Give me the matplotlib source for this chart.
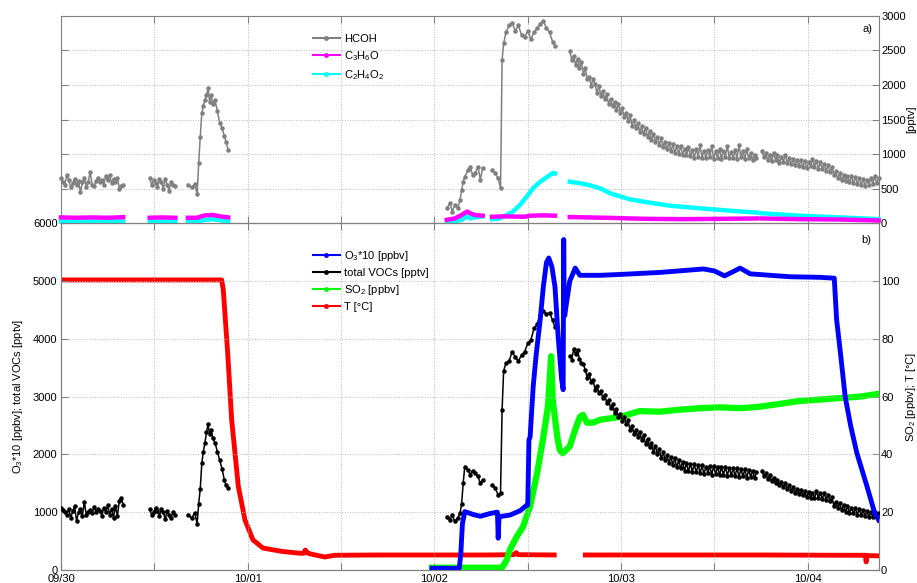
import numpy as np
import matplotlib
matplotlib.use('Agg')
import matplotlib.pyplot as plt
from matplotlib.lines import Line2D

plt.rcParams['font.family'] = ['Liberation Sans', 'DejaVu Sans']
plt.rcParams['mathtext.fontset'] = 'custom'
plt.rcParams['mathtext.rm'] = 'Liberation Sans'
plt.rcParams['mathtext.it'] = 'Liberation Sans:italic'
nan = np.nan

# ---------------- data (hours since 09/30 00:00) ----------------
x_ticks = [0, 12, 24, 36, 48, 60, 72, 84, 96]
x_labels = ['09/30', '', '10/01', '', '10/02', '', '10/03', '', '10/04']

# regularly sampled segments: (start hour, sampling step in hours)
seg1_start, seg1_step = 0.0, 0.25
seg2_start, seg2_step = 11.4, 0.25
seg5_start, seg5_step = 65.4, 0.25
seg6_start, seg6_step = 90.1, 0.25
# irregular segments: explicit times
t_seg3 = [16.3, 16.8, 17.2, 17.5, 17.7, 17.9, 18.1, 18.3, 18.5, 18.7, 18.9,
          19.1, 19.3, 19.5, 19.8, 20.1, 20.4, 20.7, 21.0, 21.2, 21.5]
t_seg4a = [49.6, 50.0, 50.3, 50.6, 51.0, 51.3, 51.5, 51.7, 51.9, 52.3, 52.6,
           52.9, 53.2, 53.6, 53.9, 54.2]
t_seg4b = [55.4, 55.8, 56.2, 56.5, 56.7, 56.9, 57.2, 57.6, 58.0, 58.4, 58.8,
           59.2, 59.6, 60.0, 60.4, 60.8, 61.2, 61.6, 62.0, 62.4, 62.8, 63.2, 63.5]

hcoh1 = [650, 600, 560, 700, 620, 520, 580, 640, 560, 610, 450, 590, 660, 530, 600,
         740, 560, 540, 610, 650, 590, 620, 560, 680, 620, 700, 580, 640, 600, 660,
         500, 540, 560]
hcoh2 = [650, 560, 620, 580, 520, 640, 600, 500, 640, 560, 470, 600, 560, 540]
hcoh3 = [560, 520, 570, 420, 870, 1250, 1590, 1700, 1780, 1850, 1950, 1760, 1850,
         1720, 1780, 1620, 1450, 1380, 1260, 1180, 1060]
hcoh4a = [220, 290, 170, 260, 220, 340, 480, 600, 670, 770, 820, 700, 720, 820, 630, 800]
hcoh4b = [770, 720, 650, 505, 2360, 2600, 2760, 2860, 2900, 2780, 2860, 2720, 2690,
          2780, 2660, 2760, 2820, 2880, 2930, 2820, 2760, 2620, 2560]
hcoh5 = [2490, 2360, 2420, 2290, 2380, 2250, 2330, 2160, 2240, 2080, 2120, 1990, 2080,
         2010, 1880, 1990, 1840, 1910, 1790,
         1870, 1720, 1800, 1690, 1760, 1640, 1720, 1600, 1660, 1540, 1600, 1480, 1560,
         1410, 1490, 1380, 1450, 1320, 1400, 1290,
         1380, 1250, 1330, 1200, 1290, 1170, 1250, 1130, 1230, 1100, 1180, 1070, 1160,
         1040, 1140, 1020, 1110, 1000, 1120, 990,
         1080, 980, 1100, 970, 1060, 950, 1070, 960, 1130, 950, 1050, 940, 1060, 960,
         1110, 930, 1040, 940, 1080, 930,
         1050, 960, 1120, 940, 1030, 950, 1060, 930, 1130, 960, 1040, 930, 1070, 940,
         1010, 920, 990, 950]
hcoh6 = [1040, 960, 1010, 920, 990, 900, 1010, 920, 980, 870, 960, 890, 990, 870, 940, 850,
         930, 840, 920, 830, 910, 810, 900, 800, 880, 830, 930, 820, 900, 790, 880, 780,
         860, 760, 840, 740, 810, 700, 750, 650, 720, 620, 700, 610, 690, 590, 680, 580,
         670, 570, 650, 550, 640, 540, 620, 560, 650, 570, 680, 580, 650]

voc1 = [1080, 1040, 1000, 960, 1060, 900, 1020, 1100, 850, 1000, 1060, 940, 1180, 950,
        1000, 1040, 980, 1090, 1000, 1060, 1020, 940, 1080, 1000, 1120, 960, 1060, 900,
        1100, 940, 1200, 1250, 1120]
voc2 = [1050, 960, 1000, 1080, 1020, 940, 1060, 1000, 880, 1020, 950, 900, 1000, 950]
voc3 = [960, 900, 990, 800, 1150, 1400, 1850, 2050, 2200, 2380, 2520, 2350, 2420, 2280,
        2200, 2050, 1900, 1750, 1560, 1470, 1420]
voc4a = [925, 870, 960, 840, 900, 985, 1150, 1500, 1790, 1735, 1650, 1720, 1680, 1620,
         1500, 1560]
voc4b = [1475, 1420, 1300, 1330, 2775, 3450, 3580, 3620, 3780, 3680, 3620, 3720, 3780,
         3920, 3980, 4180, 4250, 4420, 4480, 4430, 4450, 4320, 4200]
voc5 = [3700, 3640, 3820, 3730, 3800, 3650, 3580, 3560, 3460, 3330, 3400, 3250, 3290,
        3120, 3190, 3060, 3100, 2970, 3030,
        2890, 2950, 2800, 2870, 2720, 2790, 2650, 2700, 2580, 2650, 2520, 2590, 2420,
        2490, 2360, 2430, 2300, 2390, 2250, 2330,
        2180, 2260, 2120, 2200, 2050, 2140, 2010, 2090, 1930, 2040, 1900, 1990, 1850,
        1960, 1820, 1930, 1780, 1900, 1760, 1870,
        1720, 1850, 1710, 1840, 1700, 1830, 1690, 1820, 1680, 1810, 1660, 1790, 1680,
        1800, 1650, 1800, 1660, 1790, 1640, 1780,
        1650, 1790, 1630, 1770, 1640, 1760, 1620, 1770, 1610, 1750, 1620, 1740, 1600,
        1730, 1610, 1720, 1590, 1700]
voc6 = [1720, 1620, 1680, 1580, 1640, 1540, 1600, 1500, 1560, 1470, 1530, 1430,
        1500, 1400, 1470, 1370, 1430, 1340, 1400, 1310, 1390, 1290, 1360, 1260,
        1350, 1250, 1340, 1240, 1360, 1250, 1340, 1230, 1330, 1220, 1300, 1190,
        1260, 1110, 1180, 1080, 1160, 1040, 1120, 1010, 1100, 990, 1080, 980,
        1070, 960, 1050, 950, 1040, 930, 1020, 920, 1010, 910, 1000, 920, 990]

c3h6o_t = [0, 2, 4, 6, 8, nan, 11.4, 13, 14.7, nan, 16.3, 17.5, 18.5, 19.5, 20.5, 21.5,
           nan, 49.6, 50.6, 51.5, 52.2, 52.6, 53.2, 54.2, nan, 55.4, 57.0, 59.6, 60.3,
           62.0, 63.5, nan, 65.4, 70.0, 75.0, 80.0, 85.0, 89.5, nan, 90.1, 95.0, 100.0, 105.1]
c3h6o_v = [85, 80, 85, 80, 88, nan, 80, 85, 80, nan, 80, 80, 115, 120, 100, 85,
           nan, 50, 70, 120, 170, 145, 120, 110, nan, 95, 100, 95, 110, 115, 110,
           nan, 90, 80, 65, 60, 65, 70, nan, 70, 60, 55, 40]

c2h4o2_t = [0, 4, 8, nan, 11.4, 14.7, nan, 16.3, 17.5, 18.5, 19.5, 20.5, 21.5, nan,
            49.6, 50.6, 51.5, 52.2, 52.6, 53.2, 54.2, nan, 55.4, 56.4, 57.3, 58.1, 59.0,
            59.9, 60.7, 61.6, 62.5, 63.2, 63.5, nan, 65.4, 66.7, 68.0, 69.3, 70.6, 73.1,
            75.7, 78.3, 82.1, 86.0, 89.5, nan, 90.1, 94.9, 100.1, 105.1]
c2h4o2_v = [25, 25, 25, nan, 25, 25, nan, 25, 25, 50, 60, 45, 25, nan,
            25, 25, 50, 100, 70, 85, 100, nan, 60, 70, 120, 170, 265,
            390, 510, 600, 670, 725, 720, nan, 600, 580, 550, 505, 433, 347,
            298, 254, 217, 182, 154, nan, 145, 110, 85, 60]

o3_t = [47.7, 51.2, 51.4, 51.6, 51.9, 53.0, 53.9, 55.1, 56.0, 56.1, 56.2, 56.3, 56.4,
        57.7, 59.0, 59.9, 60.0, 60.15, 60.3, 60.7, 61.1, 61.6, 62.0, 62.4, 62.7, 63.1,
        63.5, 63.9, 64.35, 64.55, 64.62, 64.68, 64.75, 64.85, 65.4, 66.1, 66.7, 69.3,
        71.9, 77.0, 82.6, 84.0, 85.3, 86.2, 87.3, 88.6, 93.7, 97.6, 99.4, 99.7, 100.2,
        100.8, 101.5, 102.3, 103.6, 104.6, 105.1]
o3_v = [30, 30, 300, 800, 1010, 960, 930, 975, 1000, 1000, 550, 900, 925,
        950, 1025, 1125, 1125, 2250, 2300, 3180, 3750, 4335, 4900, 5320, 5400, 5250,
        4900, 4050, 3300, 3120, 5720, 4700, 4400, 4500, 5000, 5225, 5100, 5100,
        5115, 5150, 5210, 5175, 5090, 5150, 5225, 5125, 5075, 5065, 5050, 4335, 3750,
        3000, 2500, 2025, 1450, 985, 865]

so2_t = [47.7, 56.7, 57.3, 57.7, 58.6, 59.4, 60.3, 61.2, 62.0, 62.6, 63.0, 63.2, 63.8,
         64.1, 64.5, 65.4, 66.1, 66.7, 67.1, 67.6, 68.4, 69.3, 71.9, 74.4, 77.0, 79.6,
         82.1, 84.7, 87.3, 89.8, 92.4, 94.9, 97.6, 100.1, 102.7, 105.1]
so2_v = [0.8, 0.8, 3.5, 7, 11.6, 15, 22, 33.5, 46, 56.6, 74, 59, 46,
         41.6, 40.4, 42.8, 48.6, 53, 53.7, 51, 51, 52, 53, 55, 54.8, 55.5,
         56, 56.3, 56, 56.5, 57.5, 58.5, 59, 59.5, 60, 61]

temp_t = [0, 20.65, 20.86, 21.43, 21.94, 22.79, 23.65, 24.68, 25.96, 28.5, 30.7, 31.2,
          31.4, 31.7, 32.0, 33.9, 35.2, 41.0, 48.0, 55.0, 58.2, 58.5, 58.8, 63.4, nan,
          67.4, 80.0, 90.0, 100.0, 103.4, 103.5, 103.6, 105.1]
temp_v = [100.4, 100.4, 97, 75, 52, 29, 17.3, 10.4, 7.6, 6.4, 5.8, 5.8,
          6.9, 5.9, 5.6, 4.5, 5.1, 5.2, 5.2, 5.2, 5.3, 6.0, 5.3, 5.2, nan,
          5.2, 5.2, 5.2, 5.1, 5.1, 2.8, 5.0, 4.9]


def regular(start, step, values):
    return start + step * np.arange(len(values))


def join(times, values):
    ts, vs = [], []
    for t, v in zip(times, values):
        if ts:
            ts.append(nan); vs.append(nan)
        ts.extend(list(t)); vs.extend(list(v))
    return np.array(ts, float), np.array(vs, float)


hcoh_t, hcoh_v = join(
    [regular(seg1_start, seg1_step, hcoh1), regular(seg2_start, seg2_step, hcoh2),
     t_seg3, t_seg4a, t_seg4b,
     regular(seg5_start, seg5_step, hcoh5), regular(seg6_start, seg6_step, hcoh6)],
    [hcoh1, hcoh2, hcoh3, hcoh4a, hcoh4b, hcoh5, hcoh6])
voc_t, voc_v = join(
    [regular(seg1_start, seg1_step, voc1), regular(seg2_start, seg2_step, voc2),
     t_seg3, t_seg4a, t_seg4b,
     regular(seg5_start, seg5_step, voc5), regular(seg6_start, seg6_step, voc6)],
    [voc1, voc2, voc3, voc4a, voc4b, voc5, voc6])

# ---------------- figure ----------------
W, H = 917, 583
fig = plt.figure(figsize=(W / 100, H / 100), dpi=100)
xl, xr = 61 / W, 879 / W
ytop, ymid, ybot = 15.7, 223.3, 570
ax1 = fig.add_axes([xl, 1 - ymid / H, xr - xl, (ymid - ytop) / H])
ax2 = fig.add_axes([xl, 1 - ybot / H, xr - xl, (ybot - ymid) / H])
ax2r = ax2.twinx()

spine_col = '#808080'
grid_kw = dict(ls=':', color='#b8b8b8', lw=0.7)
xlim = (0, 105.15)

# ---- top panel ----
ax1.plot(hcoh_t, hcoh_v, color='#808080', lw=1.1, marker='.', ms=4.5, clip_on=False, zorder=3)
ax1.plot(c2h4o2_t, c2h4o2_v, color='#00ffff', lw=3.2, clip_on=False, zorder=4)
ax1.plot(c3h6o_t, c3h6o_v, color='#ff00ff', lw=3.2, clip_on=False, zorder=4)
ax1.set_xlim(*xlim)
ax1.set_ylim(0, 3000)
ax1.set_yticks([0, 500, 1000, 1500, 2000, 2500, 3000])
ax1.set_xticks(x_ticks)
ax1.grid(True, **grid_kw)
ax1.set_axisbelow(True)
ax1.tick_params(axis='y', left=True, right=True, labelleft=False, labelright=True,
                direction='in', length=5, pad=1.5, labelsize=8, color=spine_col)
ax1.tick_params(axis='x', top=True, bottom=True, labelbottom=False,
                direction='in', length=5, color=spine_col)
ax1.yaxis.set_label_position('right')
ax1.set_ylabel('[pptv]', fontsize=8, labelpad=0.5)
for s in ax1.spines.values():
    s.set_color(spine_col)
ax1.text(0.992, 0.935, 'a)', transform=ax1.transAxes, ha='right', va='center', fontsize=8)
h_top = [Line2D([], [], color='#808080', lw=1.5, marker='.', ms=5),
         Line2D([], [], color='#ff00ff', lw=1.5, marker='.', ms=5),
         Line2D([], [], color='#00ffff', lw=1.5, marker='.', ms=5)]
ax1.legend(h_top, ['HCOH', 'C$_3$H$_6$O', 'C$_2$H$_4$O$_2$'], loc='upper left',
           bbox_to_anchor=(0.308, 0.91), frameon=False, borderaxespad=0, borderpad=0,
           handlelength=2.4, handletextpad=0.4, labelspacing=0.45, fontsize=8)

# ---- bottom panel ----
ax2r.plot(temp_t, temp_v, color='#ff0000', lw=3.5, zorder=2)
ax2r.plot(so2_t, so2_v, color='#00ff00', lw=4.5, zorder=3)
ax2.plot(voc_t, voc_v, color='black', lw=1.1, marker='.', ms=4.5, zorder=3)
ax2.plot(o3_t, o3_v, color='#0000ff', lw=3.5, zorder=4)
ax2.set_zorder(ax2r.get_zorder() + 1)
ax2.patch.set_visible(False)

ax2.set_xlim(*xlim)
ax2.set_ylim(0, 6000)
ax2.set_yticks([0, 1000, 2000, 3000, 4000, 5000, 6000])
ax2r.set_ylim(0, 120)
ax2r.set_yticks([0, 20, 40, 60, 80, 100])
ax2.set_xticks(x_ticks)
ax2.set_xticklabels(x_labels)
ax2.grid(True, **grid_kw)
ax2.set_axisbelow(True)
ax2.tick_params(axis='y', left=True, right=False, direction='in', length=5, pad=2.5,
                labelsize=8, color=spine_col)
ax2.tick_params(axis='x', top=True, bottom=True, direction='in', length=5, pad=3,
                labelsize=8, color=spine_col)
ax2r.tick_params(axis='y', right=True, direction='in', length=5, pad=1.5, labelsize=8,
                 color=spine_col)
for a in (ax2, ax2r):
    for s in a.spines.values():
        s.set_color(spine_col)
ax2.set_ylabel('O$_3$*10 [ppbv]; total VOCs [pptv]', fontsize=8, labelpad=6)
ax2r.set_ylabel('SO$_2$ [ppbv]; T [°C]', fontsize=8, labelpad=3)
ax2.text(0.99, 0.952, 'b)', transform=ax2.transAxes, ha='right', va='center', fontsize=8)

h_bot = [Line2D([], [], color='#0000ff', lw=1.5, marker='.', ms=5),
         Line2D([], [], color='black', lw=1.5, marker='.', ms=5),
         Line2D([], [], color='#00ff00', lw=1.5, marker='.', ms=5),
         Line2D([], [], color='#ff0000', lw=1.5, marker='.', ms=5)]
ax2.legend(h_bot, ['O$_3$*10 [ppbv]', 'total VOCs [pptv]', 'SO$_2$ [ppbv]', 'T [°C]'],
           loc='upper left', bbox_to_anchor=(0.308, 0.925), frameon=False,
           borderaxespad=0, borderpad=0, handlelength=2.4, handletextpad=0.4,
           labelspacing=0.45, fontsize=8)

fig.savefig('out.png', dpi=100)
